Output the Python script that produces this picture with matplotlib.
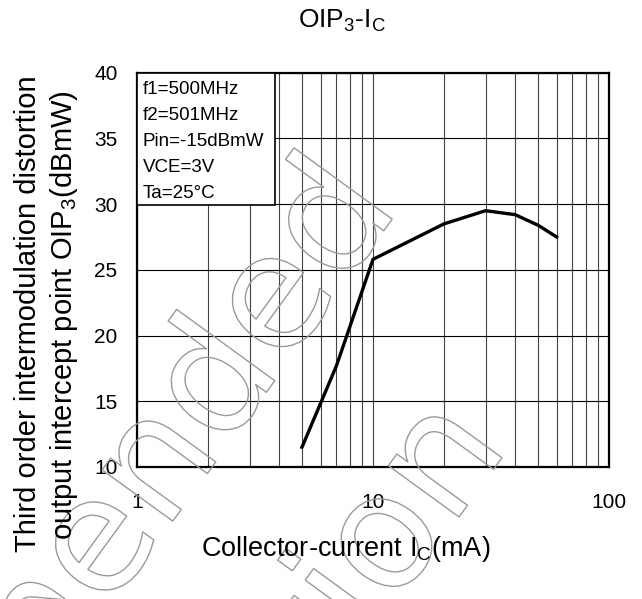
import numpy as np
import matplotlib.pyplot as plt
import matplotlib.patheffects as pe
from matplotlib.patches import Rectangle
from matplotlib.ticker import FixedLocator, NullFormatter

plt.rcParams['font.family'] = ['Liberation Sans', 'DejaVu Sans']
plt.rcParams['mathtext.fontset'] = 'custom'
plt.rcParams['mathtext.rm'] = 'Liberation Sans'
plt.rcParams['mathtext.it'] = 'Liberation Sans:italic'

# data
ic_ma = [5, 7, 10, 20, 30, 40, 50, 60]
oip3 = [11.5, 17.7, 25.8, 28.5, 29.5, 29.2, 28.4, 27.5]

conditions = ['f1=500MHz', 'f2=501MHz', 'Pin=-15dBmW', 'VCE=3V', 'Ta=25°C']
y_ticks = [10, 15, 20, 25, 30, 35, 40]
x_ticks = [1, 10, 100]

fig = plt.figure(figsize=(6.42, 5.99), dpi=100)

# watermark (outlined letters)
for txt, x, y in [('Recommended', 0.625, 0.655), ('Production', 0.795, 0.255)]:
    fig.text(x, y, txt, fontsize=115, rotation=54, rotation_mode='anchor',
             ha='right', va='baseline', color='none', family='DejaVu Sans', zorder=0,
             path_effects=[pe.Stroke(linewidth=1.0, foreground='#9a9a9a')])

ax = fig.add_axes([0.2134, 0.2204, 0.7352, 0.6582])
ax.patch.set_alpha(0)
ax.set_xscale('log')
ax.set_xlim(1, 100)
ax.set_ylim(10, 40)

ax.set_yticks(y_ticks)
ax.set_xticks(x_ticks)
ax.set_xticklabels(['1', '10', '100'])
minor = [m * d for d in (1, 10) for m in range(2, 10)]
ax.xaxis.set_minor_locator(FixedLocator(minor))
ax.xaxis.set_minor_formatter(NullFormatter())
ax.tick_params(axis='both', which='both', length=0, labelsize=15)
ax.tick_params(axis='x', pad=19)
ax.tick_params(axis='y', pad=14)

ax.grid(True, which='both', axis='x', color='#444444', linewidth=0.8)
ax.grid(True, which='major', axis='y', color='black', linewidth=0.8)
for s in ax.spines.values():
    s.set_linewidth(1.6)

ax.plot(ic_ma, oip3, color='black', linewidth=2.4, solid_joinstyle='miter', zorder=3)

# condition box
ax.add_patch(Rectangle((0, 1 - 0.336), 0.292, 0.336, transform=ax.transAxes,
                       facecolor='white', edgecolor='black', linewidth=1.2, zorder=4))
for i, c in enumerate(conditions):
    ax.text(0.012, 0.98 - i * 0.066, c, transform=ax.transAxes, fontsize=13.5,
            va='top', ha='left', zorder=5)

fig.text(0.532, 0.965, r'OIP$_\mathregular{3}$-I$_\mathregular{C}$', ha='center', va='center', fontsize=19)
fig.text(0.539, 0.083, r'Collector-current I$_\mathregular{C}$(mA)', ha='center', va='center', fontsize=19.5)
fig.text(0.044, 0.477, 'Third order intermodulation distortion', rotation=90,
         ha='center', va='center', fontsize=21)
fig.text(0.10, 0.474, r'output intercept point OIP$_\mathregular{3}$(dBmW)', rotation=90,
         ha='center', va='center', fontsize=21)

fig.savefig('out.png', dpi=100)
